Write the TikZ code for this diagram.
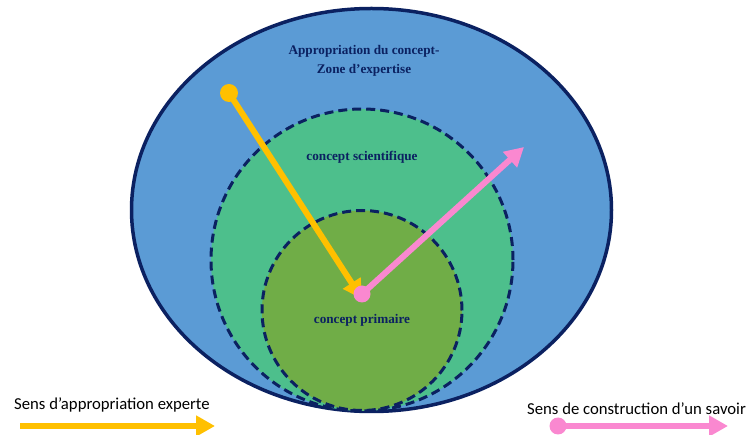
\documentclass[tikz,border=0pt]{standalone}
\usepackage{fontspec}
\setmainfont{Liberation Serif}
\newfontfamily\legendfont{Carlito}
\usetikzlibrary{arrows.meta,shapes.geometric}
\definecolor{navy}{HTML}{0B2161}
\definecolor{outerblue}{HTML}{5B9BD5}
\definecolor{midgreen}{HTML}{4DBF8C}
\definecolor{innergreen}{HTML}{70AD47}
\definecolor{ayellow}{HTML}{FFC000}
\definecolor{apink}{HTML}{FA88D0}
\tikzset{
  zonelabel/.style={text=navy,font=\bfseries\fontsize{13.2}{16}\selectfont,align=center,inner sep=0pt},
  legendtext/.style={font=\legendfont\fontsize{16.7}{20}\selectfont,anchor=west,inner sep=0pt,text=black},
  dashedborder/.style={draw=navy,line width=3pt,dash pattern=on 9pt off 5pt},
  yarrow/.style={draw=ayellow,line width=6pt,-{Triangle[length=19pt,width=20pt]}},
  parrow/.style={draw=apink,line width=6pt,-{Triangle[length=19pt,width=20pt]}},
}
\begin{document}
\begin{tikzpicture}[x=1pt,y=-1pt]
\useasboundingbox (0,0) rectangle (750,435);
% zones
\node[ellipse,fill=outerblue,draw=navy,line width=3.5pt,minimum width=480pt,minimum height=403pt,inner sep=0pt] (outer) at (371.5,210) {};
\node[circle,fill=midgreen,minimum size=302pt,inner sep=0pt] (mid) at (362,260) {};
\node[circle,fill=innergreen,minimum size=200pt,inner sep=0pt] (inner) at (362,310.5) {};
\draw[dashedborder] (mid.center) circle[radius=151pt];
\draw[dashedborder] (inner.center) circle[radius=100pt];
% labels
\node[zonelabel] (l1) at (364,60.5) {Appropriation du concept-\\[3pt]Zone d’expertise};
\node[zonelabel] (l2) at (362,157) {concept scientifique};
\node[zonelabel] (l3) at (362,320) {concept primaire};
% arrows
\coordinate (ys) at (229,93);
\coordinate (ye) at (362,299);
\coordinate (ps) at (362,294);
\coordinate (pe) at (524,147);
\draw[yarrow] (ys) -- (ye);
\fill[ayellow] (ys) circle[radius=9pt];
\draw[parrow] (ps) -- (pe);
\fill[apink] (ps) circle[radius=8.5pt];
% legend
\node[legendtext] (t1) at (14,405) {Sens d’appropriation experte};
\coordinate (a1s) at (20,426);
\coordinate (a1e) at (215,426);
\draw[yarrow] (a1s) -- (a1e);
\node[legendtext] (t2) at (527,409) {Sens de construction d’un savoir};
\coordinate (a2s) at (558,426);
\coordinate (a2e) at (728,426);
\draw[parrow] (a2s) -- (a2e);
\fill[apink] (a2s) circle[radius=8.5pt];
\end{tikzpicture}
\end{document}
